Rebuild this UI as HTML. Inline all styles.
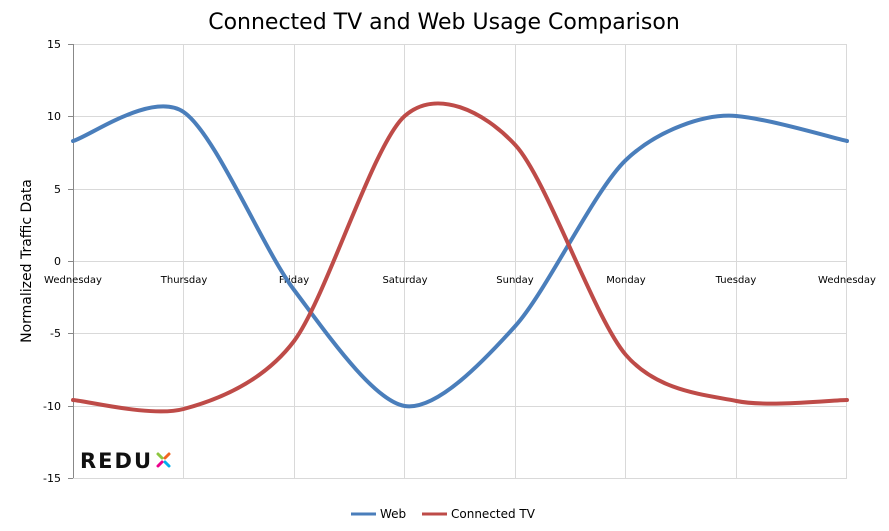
<!DOCTYPE html><html><head><style>body{margin:0;background:#fff}svg{display:block;font-family:"DejaVu Sans","Liberation Sans",sans-serif}</style></head><body>
<svg width="889" height="531" xmlns="http://www.w3.org/2000/svg">
<rect width="889" height="531" fill="#fff"/>
<text x="444" y="29" font-size="22" text-anchor="middle" fill="#000">Connected TV and Web Usage Comparison</text>
<g stroke="#d9d9d9" stroke-width="1">
<line x1="73" y1="44.5" x2="847" y2="44.5"/><line x1="73" y1="116.5" x2="847" y2="116.5"/><line x1="73" y1="189.5" x2="847" y2="189.5"/><line x1="73" y1="333.5" x2="847" y2="333.5"/><line x1="73" y1="406.5" x2="847" y2="406.5"/><line x1="73" y1="478.5" x2="847" y2="478.5"/><line x1="73" y1="261.5" x2="847" y2="261.5"/>
<line x1="183.5" y1="44" x2="183.5" y2="478"/><line x1="294.5" y1="44" x2="294.5" y2="478"/><line x1="404.5" y1="44" x2="404.5" y2="478"/><line x1="515.5" y1="44" x2="515.5" y2="478"/><line x1="625.5" y1="44" x2="625.5" y2="478"/><line x1="736.5" y1="44" x2="736.5" y2="478"/><line x1="846.5" y1="44" x2="846.5" y2="478"/>
</g>
<g stroke="#888"><line x1="73.5" y1="44" x2="73.5" y2="478"/>
<line x1="68" y1="44.5" x2="73" y2="44.5"/><line x1="68" y1="116.5" x2="73" y2="116.5"/><line x1="68" y1="189.5" x2="73" y2="189.5"/><line x1="68" y1="261.5" x2="73" y2="261.5"/><line x1="68" y1="333.5" x2="73" y2="333.5"/><line x1="68" y1="406.5" x2="73" y2="406.5"/><line x1="68" y1="478.5" x2="73" y2="478.5"/></g>
<g font-size="11" text-anchor="end" fill="#000">
<text x="61" y="48">15</text><text x="61" y="120">10</text><text x="61" y="193">5</text><text x="61" y="265">0</text><text x="61" y="337">-5</text><text x="61" y="410">-10</text><text x="61" y="482">-15</text></g>
<text transform="translate(31,261) rotate(-90)" font-size="14" text-anchor="middle">Normalized Traffic Data</text>
<g font-size="10" text-anchor="middle" fill="#000">
<text x="73" y="283">Wednesday</text><text x="184" y="283">Thursday</text><text x="294" y="283">Friday</text><text x="405" y="283">Saturday</text><text x="515" y="283">Sunday</text><text x="626" y="283">Monday</text><text x="736" y="283">Tuesday</text><text x="847" y="283">Wednesday</text></g>
<g fill="none" stroke-width="4" stroke-linecap="round">
<path stroke="#4a7ebb" d="M73,141 C88.8,136.9 152,90.7 183.6,112 C215.2,133.3 262.5,248 294.1,290 C325.7,332 373.1,400.9 404.7,406 C436.3,411.1 483.7,361.1 515.3,326 C546.9,290.9 594.3,190 625.9,160 C657.5,130 704.8,113.3 736.4,116 C768,118.7 831.2,137.4 847,141"/>
<path stroke="#be4b48" d="M73,400 C88.8,401.3 152,417.4 183.6,409 C215.2,400.6 262.5,382.9 294.1,341 C325.7,299.1 373.1,144 404.7,116 C436.3,88 483.7,110.9 515.3,145 C546.9,179.1 594.3,318.4 625.9,355 C657.5,391.6 704.8,394.6 736.4,401 C768,407.4 831.2,400.1 847,400"/>
</g>
<text x="80" y="468" font-size="21" font-weight="bold" fill="#111" letter-spacing="2">REDU</text>
<g stroke-width="3" stroke-linecap="round"><line x1="165" y1="458" x2="169" y2="454" stroke="#f26522"/><line x1="158" y1="454" x2="162" y2="458" stroke="#8dc63f"/><line x1="165" y1="462" x2="169" y2="466" stroke="#00aeef"/><line x1="158" y1="466" x2="162" y2="462" stroke="#ec008c"/></g>
<line x1="351" y1="514" x2="376" y2="514" stroke="#4a7ebb" stroke-width="3"/>
<text x="380" y="518" font-size="12">Web</text>
<line x1="422" y1="514" x2="447" y2="514" stroke="#be4b48" stroke-width="3"/>
<text x="451" y="518" font-size="12">Connected TV</text>
</svg></body></html>
